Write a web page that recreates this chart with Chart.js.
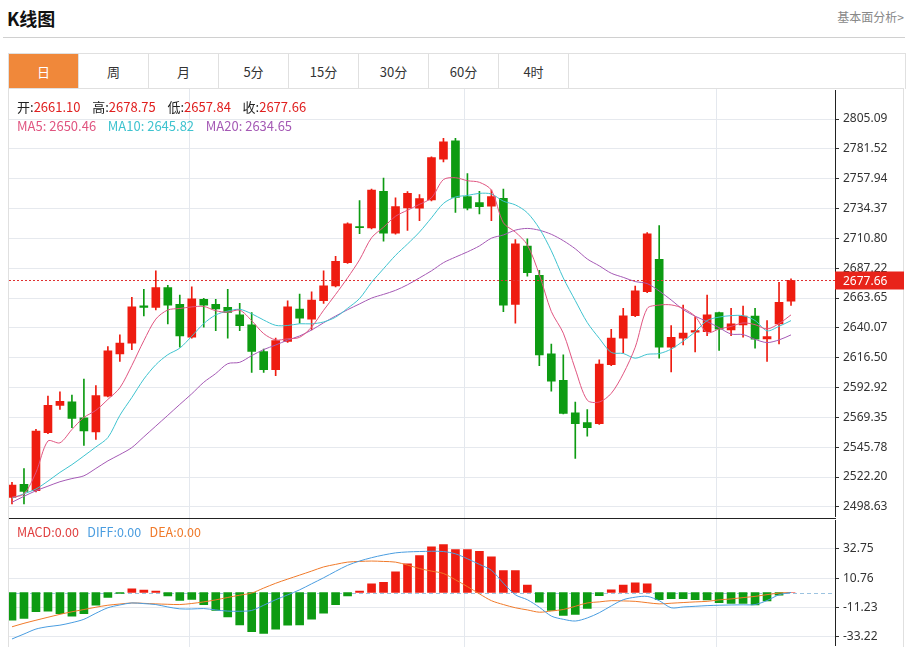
<!DOCTYPE html>
<html><head><meta charset="utf-8">
<script src="https://cdn.jsdelivr.net/npm/chart.js@4/dist/chart.umd.min.js"></script>
<style>
body{margin:0;width:908px;height:647px;overflow:hidden;background:#fff;font-family:"Microsoft YaHei","Noto Sans CJK SC","Noto Sans",sans-serif;position:relative}
.abs{position:absolute;white-space:nowrap}
#title{left:7px;top:5px;font-size:18px;font-weight:bold;color:#111}
#more{right:4px;top:8px;font-size:12px;color:#888}
#sep{left:3px;top:37px;width:902px;height:1px;background:#d0d0d0}
#tabs{left:8px;top:53px;width:896px;height:35px;border:1px solid #e0e0e0;border-bottom:none;display:flex}
#tabs div{width:69px;border-right:1px solid #e0e0e0;text-align:center;line-height:35px;font-size:13px;color:#333}
#tabs div.on{background:#f0883a;color:#fff}
#box{left:8px;top:88px;width:896px;height:560px;border:1px solid #e0e0e0;border-bottom:none;box-sizing:border-box}
.clip{position:absolute;overflow:hidden}
#c1w{left:9px;top:89px;width:895px;height:429px}
#c1i{position:absolute;left:0;top:-10px;width:895px;height:449px}
#c2w{left:9px;top:519px;width:895px;height:128px}
#c2i{position:absolute;left:0;top:-10px;width:895px;height:148px}
#pane{left:9px;top:518px;width:827px;height:1px;background:#222}
.lg{font-size:13px}
</style></head><body>
<div class="abs" id="title">K线图</div>
<div class="abs" id="more">基本面分析&gt;</div>
<div class="abs" id="sep"></div>
<div class="abs" id="tabs"><div class="on">日</div><div>周</div><div>月</div><div>5分</div><div>15分</div><div>30分</div><div>60分</div><div>4时</div></div>
<div class="abs" id="box"></div>
<div class="clip" id="c1w"><div id="c1i"><canvas id="c1"></canvas></div></div>
<div class="clip" id="c2w"><div id="c2i"><canvas id="c2"></canvas></div></div>
<div class="abs" id="pane"></div>
<div class="abs lg" style="left:17px;top:97px"><span style="color:#222">开:</span><span style="color:#e02020">2661.10</span>&nbsp;&nbsp;&nbsp; <span style="color:#222">高:</span><span style="color:#e02020">2678.75</span>&nbsp;&nbsp;&nbsp; <span style="color:#222">低:</span><span style="color:#e02020">2657.84</span>&nbsp;&nbsp;&nbsp; <span style="color:#222">收:</span><span style="color:#e02020">2677.66</span></div>
<div class="abs lg" style="left:17px;top:116px"><span style="color:#e05580">MA5:&nbsp;2650.46</span>&nbsp;&nbsp;&nbsp;&nbsp;<span style="color:#3fc3cf">MA10:&nbsp;2645.82</span>&nbsp;&nbsp;&nbsp;&nbsp;<span style="color:#a55ab5">MA20:&nbsp;2634.65</span></div>
<div class="abs" style="left:17px;top:522px;font-size:12.5px"><span style="color:#e04040">MACD:0.00</span>&nbsp;&nbsp;&nbsp;<span style="color:#4a9de0">DIFF:0.00</span>&nbsp;&nbsp;&nbsp;<span style="color:#f07a2a">DEA:0.00</span></div>
<script>
const opens=[2506.2,2516.4,2511.4,2557.3,2578.8,2581.7,2569.1,2557.8,2586.1,2619.6,2628.0,2657.6,2656.3,2672.0,2658.7,2632.7,2662.6,2658.7,2656.3,2650.3,2642.4,2621.4,2607.1,2629.3,2655.0,2646.9,2661.5,2673.3,2691.7,2720.2,2719.0,2747.9,2714.9,2734.9,2734.6,2741.2,2773.4,2787.8,2743.8,2739.1,2736.2,2742.4,2658.7,2704.7,2681.7,2619.6,2598.6,2573.0,2565.2,2564.4,2611.0,2632.0,2649.7,2668.6,2694.3,2624.9,2632.0,2636.7,2637.1,2652.1,2638.5,2642.4,2649.5,2631.4,2643.2,2661.10];
const highs=[2518.0,2529.0,2559.9,2586.1,2589.5,2586.9,2599.7,2594.5,2625.4,2634.6,2664.2,2670.5,2685.1,2673.8,2666.0,2672.5,2663.4,2662.6,2670.5,2659.5,2652.1,2623.3,2632.0,2661.5,2666.8,2668.6,2685.1,2696.6,2723.0,2740.6,2749.8,2758.5,2742.8,2747.7,2745.4,2775.3,2789.9,2789.9,2762.1,2748.0,2749.0,2749.8,2709.8,2710.5,2685.6,2627.2,2618.8,2581.4,2575.6,2614.9,2639.0,2655.5,2673.1,2715.3,2721.0,2641.9,2658.1,2648.9,2666.0,2652.6,2655.5,2657.3,2655.5,2645.8,2676.0,2678.75];
const lows=[2501.0,2501.0,2510.5,2556.5,2575.6,2561.2,2547.3,2552.0,2585.5,2613.6,2622.8,2649.5,2654.2,2643.2,2624.9,2632.0,2640.6,2637.9,2632.0,2637.9,2604.9,2604.9,2602.3,2628.5,2643.8,2638.5,2659.5,2672.5,2691.0,2714.5,2718.3,2708.7,2714.2,2717.1,2724.9,2740.5,2771.3,2731.4,2733.3,2730.2,2724.9,2652.9,2643.8,2680.9,2610.2,2590.0,2572.0,2536.9,2554.6,2563.8,2610.3,2620.2,2649.0,2668.0,2616.2,2605.2,2626.7,2621.0,2634.0,2622.2,2634.0,2632.7,2624.1,2613.6,2627.5,2657.84];
const closes=[2515.9,2510.9,2558.6,2578.8,2582.1,2568.5,2558.6,2586.6,2622.0,2628.0,2656.8,2656.3,2672.0,2658.1,2633.8,2663.1,2658.1,2655.0,2652.4,2641.9,2621.4,2607.1,2630.1,2656.8,2647.7,2662.1,2673.3,2692.7,2722.3,2719.2,2749.0,2714.9,2735.9,2746.4,2742.2,2774.7,2787.2,2743.2,2734.6,2735.9,2743.8,2658.1,2706.6,2683.8,2618.8,2597.9,2572.5,2564.4,2561.2,2611.5,2632.0,2649.7,2669.4,2714.5,2624.9,2632.7,2635.9,2637.9,2650.3,2639.0,2643.2,2649.5,2631.2,2633.2,2660.3,2677.66];
// MA values before a full window
const ma5Head=[2506.2,2508.8,2525.9,2550.7];
const ma10Head=[2505.5,2509,2512.8,2519,2525.9,2532,2538.9,2546,2553.4];
const ma20Head=[2502.3,2507,2511.4,2515,2518.5,2521,2523.2,2529,2535.0,2540,2545.5,2554,2562.5,2571,2579.6,2588,2597.1,2604,2611.8];
const macdBars=[-20.7,-19.3,-14.4,-13.9,-15.8,-17.6,-15.8,-9.5,-3.7,-0.7,2.7,1.8,1.0,-2.6,-5.9,-5.1,-9.0,-13.4,-18.3,-24.2,-29.3,-30.5,-27.3,-24.4,-24.2,-20.0,-15.4,-9.0,-2.6,1.0,6.4,7.6,15.4,21.5,27.6,34.2,35.7,32.0,32.0,30.8,26.7,16.4,16.4,5.6,-7.3,-13.4,-17.1,-16.3,-11.9,-2.4,2.0,5.6,7.3,6.4,-5.4,-4.6,-4.6,-5.4,-5.6,-7.5,-8.1,-8.1,-9.2,-6.3,-1.9,0];
const diff=[-34.7,-31,-27.3,-25.5,-24.4,-22.5,-20.0,-15.5,-11.4,-9.3,-7.8,-8.3,-9.0,-10.8,-12.2,-12.3,-12.0,-13.0,-13.9,-14.0,-13.4,-9.5,-5.4,-1.8,2.0,6.5,11.0,15.8,20.3,23.5,26.0,28.0,29.6,30.3,30.6,30.8,30.6,28.9,25.2,21.0,16.6,7.0,-1.7,-5.4,-11.0,-17.6,-20.0,-21.3,-19.0,-15.1,-10.0,-5.4,-3.5,-2.9,-6.1,-11.4,-10.8,-10.3,-9.8,-9.5,-9.3,-9.2,-9.0,-6.0,-1.7,0];
const dea=[-25.6,-23,-20.7,-18.5,-16.3,-14.4,-12.7,-11.0,-9.5,-8.6,-7.8,-8.1,-8.5,-8.8,-9.0,-8.2,-7.0,-5.5,-3.7,-2.0,-0.4,3.3,6.9,10.0,13.0,16.0,19.1,21.0,22.7,23.2,23.5,23.2,22.7,20.5,17.9,16.0,14.2,9.5,4.4,-1.0,-6.1,-9.0,-11.4,-13.0,-14.7,-13.8,-12.7,-10.3,-7.8,-7.0,-6.1,-6.3,-6.6,-7.6,-8.5,-8.0,-7.5,-7.0,-6.6,-5.5,-4.8,-3.8,-2.9,-1.6,-0.4,0];
const priceTicks=[2498.63,2522.20,2545.78,2569.35,2592.92,2616.50,2640.07,2663.65,2687.22,2710.80,2734.37,2757.94,2781.52,2805.09];
const macdTicks=[-33.22,-11.23,10.76,32.75];
const lastPrice=2677.66;

const UP='#ee1c10',DN='#0d9b12';
function ma(n,head){return closes.map((c,i)=>{if(i<n-1)return head[i];let s=0;for(let k=i-n+1;k<=i;k++)s+=closes[k];return +(s/n).toFixed(2);});}
const ma5=ma(5,ma5Head),ma10=ma(10,ma10Head),ma20=ma(20,ma20Head);
const idx=closes.map((_,i)=>i);
const col=closes.map((c,i)=>c>=opens[i]?UP:DN);
const XMIN=-0.25,XMAX=68.67;
const vlines=[14.75,37.75,58.75];
const gridPlug={id:'vg',beforeDatasetsDraw(ch){const {ctx,chartArea:a,scales:{x}}=ch;ctx.save();ctx.strokeStyle='#e4e8ee';ctx.lineWidth=1;vlines.forEach(v=>{const p=Math.round(x.getPixelForValue(v))+0.5;ctx.beginPath();ctx.moveTo(p,a.top-20);ctx.lineTo(p,a.bottom+20);ctx.stroke();});ctx.restore();}};
const fitY={afterFit(s){s.width=69;}};
const lastPlug={id:'last',afterDraw(ch){const {ctx,chartArea:a,scales:{y}}=ch;const p=Math.round(y.getPixelForValue(lastPrice))+0.5;ctx.save();ctx.strokeStyle='#e03030';ctx.setLineDash([2,2]);ctx.beginPath();ctx.moveTo(a.left,p);ctx.lineTo(a.right,p);ctx.stroke();ctx.setLineDash([]);ctx.fillStyle='#e8231a';ctx.fillRect(a.right,p-9,69,18);ctx.fillStyle='#fff';ctx.font='12px "Microsoft YaHei","Noto Sans",sans-serif';ctx.textBaseline='middle';ctx.fillText(lastPrice.toFixed(2),a.right+8,p+1);ctx.restore();}};
function yAxis(min,max,ticks){return Object.assign({position:'right',min,max,afterBuildTicks(s){s.ticks=ticks.map(v=>({value:v}));},
 ticks:{color:'#333',font:{size:12,family:'"Microsoft YaHei","Noto Sans",sans-serif'},padding:4,callback:v=>v.toFixed(2)},
 grid:{color:'#e6e9ee',tickLength:4,tickColor:'#333'},border:{color:'#222'}},fitY);}
const xAxis={type:'linear',min:XMIN,max:XMAX,offset:false,display:false};
const common={responsive:true,maintainAspectRatio:false,animation:false,plugins:{legend:{display:false},tooltip:{enabled:false}}};

new Chart(document.getElementById('c1'),{type:'bar',
 data:{datasets:[
  {type:'line',data:idx.map(i=>({x:i,y:ma5[i]})),borderColor:'#e05580',borderWidth:1,pointRadius:0,tension:0.3,order:0},
  {type:'line',data:idx.map(i=>({x:i,y:ma10[i]})),borderColor:'#3fc3cf',borderWidth:1,pointRadius:0,tension:0.3,order:0},
  {type:'line',data:idx.map(i=>({x:i,y:ma20[i]})),borderColor:'#a55ab5',borderWidth:1,pointRadius:0,tension:0.3,order:0},
  {data:idx.map(i=>({x:i,y:[lows[i],highs[i]]})),backgroundColor:col,barThickness:1,grouped:false,order:2},
  {data:idx.map(i=>({x:i,y:[opens[i],closes[i]]})),backgroundColor:col,barThickness:8,grouped:false,minBarLength:1,order:1}
 ]},
 options:Object.assign({},common,{layout:{padding:0},
  scales:{x:xAxis,y:yAxis(2490.8,2827.9,priceTicks)}}),
 plugins:[gridPlug,lastPlug]});

const zeroPlug={id:'zero',beforeDatasetsDraw(ch){const {ctx,chartArea:a,scales:{y}}=ch;const p=Math.round(y.getPixelForValue(0))+0.5;ctx.save();ctx.strokeStyle='#9cc3e0';ctx.setLineDash([4,3]);ctx.beginPath();ctx.moveTo(a.left,p);ctx.lineTo(a.right,p);ctx.stroke();ctx.restore();}};
new Chart(document.getElementById('c2'),{type:'bar',
 data:{datasets:[
  {type:'line',data:idx.map(i=>({x:i,y:diff[i]})),borderColor:'#4a9de0',borderWidth:1,pointRadius:0,tension:0.3,order:0},
  {type:'line',data:idx.map(i=>({x:i,y:dea[i]})),borderColor:'#f07a2a',borderWidth:1,pointRadius:0,tension:0.3,order:0},
  {data:idx.map(i=>({x:i,y:macdBars[i]})),backgroundColor:macdBars.map(v=>v>=0?UP:DN),barThickness:8,order:1}
 ]},
 options:Object.assign({},common,{layout:{padding:0},
  scales:{x:xAxis,y:yAxis(-39.8,54.0,macdTicks)}}),
 plugins:[gridPlug,zeroPlug]});
</script>
</body></html>
